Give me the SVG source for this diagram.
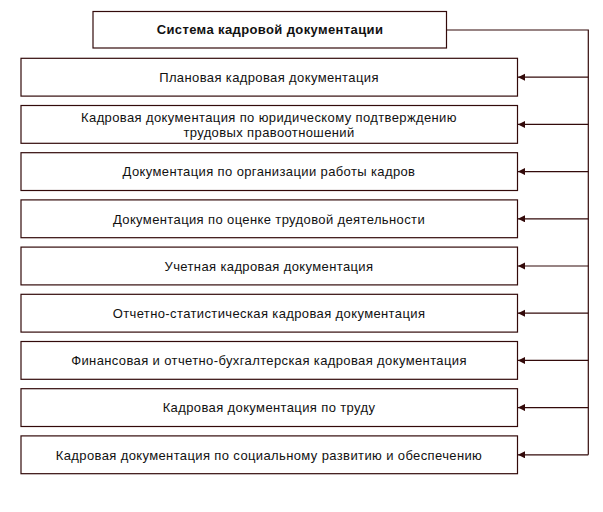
<svg xmlns="http://www.w3.org/2000/svg" width="603" height="512" viewBox="0 0 603 512">
<style>
.box{fill:#fff;stroke:#330a0a;stroke-width:1.2}
.t{font-family:"Liberation Sans",Arial,sans-serif;font-size:13px;letter-spacing:0.38px;fill:#111;text-anchor:middle}
.b{font-weight:bold}
.c{fill:none;stroke:#330a0a;stroke-width:1.2}
</style>
<defs>
<marker id="ah" markerWidth="8" markerHeight="8" refX="7" refY="3.5" orient="auto" markerUnits="userSpaceOnUse">
<path d="M0,0 L7,3.5 L0,7 Z" fill="#330a0a"/>
</marker>
</defs>
<rect width="603" height="512" fill="#fff"/>
<g id="root">
<rect class="box" x="93" y="11.5" width="353.5" height="36.5"/>
<text class="t b" x="270" y="34">Система кадровой документации</text>
</g>
<g id="n1">
<rect class="box" x="21" y="58.3" width="496.5" height="37.8"/>
<text class="t" x="269" y="82">Плановая кадровая документация</text>
</g>
<g id="n2">
<rect class="box" x="21" y="105.5" width="496.5" height="37.8"/>
<text class="t" x="269" y="122">Кадровая документация по юридическому подтверждению</text>
<text class="t" x="269" y="136.5">трудовых правоотношений</text>
</g>
<g id="n3">
<rect class="box" x="21" y="152.7" width="496.5" height="37.8"/>
<text class="t" x="269" y="176.4">Документация по организации работы кадров</text>
</g>
<g id="n4">
<rect class="box" x="21" y="199.9" width="496.5" height="37.8"/>
<text class="t" x="269" y="223.6">Документация по оценке трудовой деятельности</text>
</g>
<g id="n5">
<rect class="box" x="21" y="247.1" width="496.5" height="37.8"/>
<text class="t" x="269" y="270.8">Учетная кадровая документация</text>
</g>
<g id="n6">
<rect class="box" x="21" y="294.3" width="496.5" height="37.8"/>
<text class="t" x="269" y="318">Отчетно-статистическая кадровая документация</text>
</g>
<g id="n7">
<rect class="box" x="21" y="341.5" width="496.5" height="37.8"/>
<text class="t" x="269" y="365.2">Финансовая и отчетно-бухгалтерская кадровая документация</text>
</g>
<g id="n8">
<rect class="box" x="21" y="388.7" width="496.5" height="37.8"/>
<text class="t" x="269" y="412.4">Кадровая документация по труду</text>
</g>
<g id="n9">
<rect class="box" x="21" y="435.9" width="496.5" height="37.8"/>
<text class="t" x="269" y="459.6">Кадровая документация по социальному развитию и обеспечению</text>
</g>
<g id="connectors">
<path class="c" d="M446.5,30 H588.3 V454.8"/>
<path class="c" d="M588.3,77.2 H518" marker-end="url(#ah)"/>
<path class="c" d="M588.3,124.4 H518" marker-end="url(#ah)"/>
<path class="c" d="M588.3,171.6 H518" marker-end="url(#ah)"/>
<path class="c" d="M588.3,218.8 H518" marker-end="url(#ah)"/>
<path class="c" d="M588.3,266 H518" marker-end="url(#ah)"/>
<path class="c" d="M588.3,313.2 H518" marker-end="url(#ah)"/>
<path class="c" d="M588.3,360.4 H518" marker-end="url(#ah)"/>
<path class="c" d="M588.3,407.6 H518" marker-end="url(#ah)"/>
<path class="c" d="M588.3,454.8 H518" marker-end="url(#ah)"/>
</g>
</svg>
